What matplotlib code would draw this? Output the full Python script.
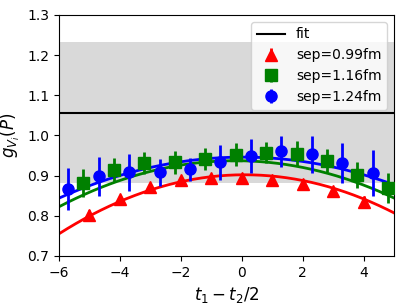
import numpy as np
import matplotlib
matplotlib.use("Agg")
import matplotlib.pyplot as plt

# fit band and central value
fit_value = 1.056
band_lo, band_hi = 0.882, 1.233

# sep=0.99fm (red triangles)
x_red = [-5, -4, -3, -2, -1, 0, 1, 2, 3, 4]
y_red = [0.802, 0.842, 0.871, 0.889, 0.895, 0.895, 0.890, 0.879, 0.861, 0.835]
e_red = [0.012, 0.010, 0.009, 0.009, 0.008, 0.008, 0.009, 0.010, 0.011, 0.013]

# sep=1.16fm (green squares)
x_green = [-5.2, -4.2, -3.2, -2.2, -1.2, -0.2, 0.8, 1.8, 2.8, 3.8, 4.8]
y_green = [0.881, 0.914, 0.931, 0.933, 0.941, 0.952, 0.957, 0.954, 0.937, 0.902, 0.869]
e_green = [0.035, 0.031, 0.028, 0.028, 0.027, 0.028, 0.026, 0.031, 0.029, 0.033, 0.038]

# sep=1.24fm (blue circles)
x_blue = [-5.7, -4.7, -3.7, -2.7, -1.7, -0.7, 0.3, 1.3, 2.3, 3.3, 4.3]
y_blue = [0.866, 0.898, 0.908, 0.908, 0.916, 0.933, 0.949, 0.960, 0.953, 0.931, 0.906]
e_blue = [0.052, 0.048, 0.046, 0.034, 0.029, 0.044, 0.042, 0.039, 0.046, 0.050, 0.057]

# fitted curve parameters: peak value, peak position, curvature
curve_red = (0.902, 0.10, 0.00395)
curve_green = (0.937, -0.21, 0.00342)
curve_blue = (0.946, 0.04, 0.00280)

fig = plt.figure(figsize=(4.07, 3.05), dpi=100)
ax = fig.add_axes([0.145, 0.161, 0.823, 0.790])

ax.axhspan(band_lo, band_hi, color='#d9d9d9', zorder=0, lw=0)
ax.axhline(fit_value, color='black', lw=1.5, label='fit', zorder=1)

xs = np.linspace(-6, 5, 200)
for (c, x0, a), col in [(curve_red, 'red'), (curve_green, 'green'), (curve_blue, 'blue')]:
    ax.plot(xs, c - a * (xs - x0) ** 2, color=col, lw=2, zorder=2)

ax.errorbar(x_red, y_red, yerr=e_red, fmt='^', color='red', ms=8, elinewidth=2,
            capsize=0, label='sep=0.99fm', zorder=3)
ax.errorbar(x_green, y_green, yerr=e_green, fmt='s', color='green', ms=8, elinewidth=2,
            capsize=0, label='sep=1.16fm', zorder=3)
ax.errorbar(x_blue, y_blue, yerr=e_blue, fmt='o', color='blue', ms=8, elinewidth=2,
            capsize=0, label='sep=1.24fm', zorder=3)

ax.set_xlim(-6, 5)
ax.set_ylim(0.7, 1.3)
ax.set_xticks([-6, -4, -2, 0, 2, 4])
ax.set_yticks([0.7, 0.8, 0.9, 1.0, 1.1, 1.2, 1.3])
ax.tick_params(labelsize=10)
ax.set_xlabel(r'$t_1 - t_2/2$', fontsize=12)
ax.set_ylabel(r'$g_{V_i}(P)$', fontsize=12)
ax.legend(loc='upper right', fontsize=10)

fig.savefig('out.png', dpi=100)
